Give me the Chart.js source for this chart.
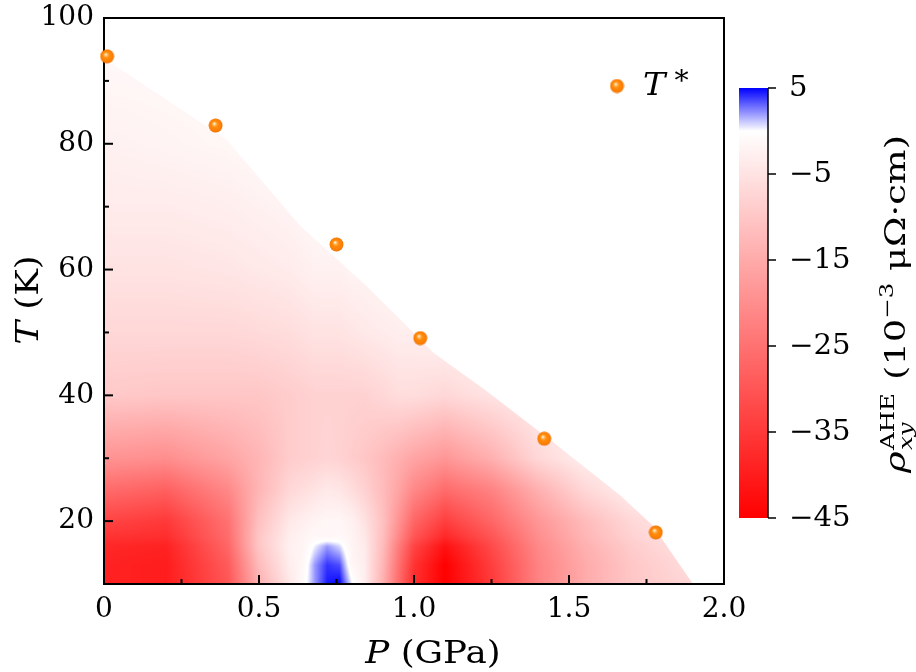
<!DOCTYPE html>
<html>
<head>
<meta charset="utf-8">
<script src="https://cdn.jsdelivr.net/npm/chart.js@4.4.1/dist/chart.umd.min.js"></script>
<style>
  html, body { margin: 0; padding: 0; background: #fff; }
</style>
</head>
<body>
<canvas id="chart" width="916" height="672"></canvas>
<script>
// T* crossover
const starP = [0.01, 0.36, 0.75, 1.02, 1.42, 1.78];
const starT = [93.9, 82.9, 64.0, 49.1, 33.1, 18.2];

// rho_xy^AHE (10^-3 uOhm cm) estimated on a P x T grid from the map colours
const gridP = [0, 0.2, 0.4, 0.5, 0.6, 0.64, 0.68, 0.72, 0.76, 0.8, 0.84, 0.9, 0.95, 1.0, 1.1, 1.25, 1.4, 1.55, 1.7, 1.9];
const gridT = [10, 13, 16, 17.5, 20, 25, 30, 40, 50, 60, 70, 80, 95];
const rho = [
  [-39, -40, -30, -14, -4, -1, 2, 4.5, 5, 0.3, -3, -14, -26, -37, -45, -35, -22, -15, -10, -7],
  [-39, -40, -29, -12, -3, -1.5, 2, 4, 3.5, -1.5, -3, -13, -25, -36, -45, -34, -22, -15, -10, -6],
  [-38, -39, -27, -10, -2.5, -2, 0.3, 2, 0.8, -2, -3.5, -12, -23, -33, -42, -32, -21, -14, -9, -5],
  [-36, -37, -26, -10, -3, -2, -1.2, -1.5, -1.2, -2, -4, -11.5, -21, -30, -38, -30, -20, -13, -8, -4],
  [-33, -35, -25, -11, -4, -3, -2, -1.5, -1.5, -2.5, -5, -11, -19, -27, -34, -27, -18.5, -12, -7, -3],
  [-26, -28, -21, -13, -7, -6, -5, -4, -4.5, -6, -8, -12, -16, -21, -26, -22, -14, -7, -3, -2],
  [-19, -20, -16, -13, -9, -8.5, -8, -7.5, -8, -9, -10, -12, -14, -16, -18.5, -14, -7, -3, -2, -1],
  [-9.5, -10, -10, -10, -9, -8.5, -8, -8, -8, -8, -8, -7, -6, -6, -7, -5, -3, -2, -1, -1],
  [-7, -7, -7, -6.5, -6, -5.5, -5, -5, -5, -4.5, -4, -3.5, -3, -3, -2, -1, -1, -1, -1, -1],
  [-5, -5, -4.5, -4, -3.5, -3, -2.5, -2.5, -2.5, -2, -2, -1.5, -1.5, -1, -1, -1, -1, -1, -1, -1],
  [-3.5, -3.5, -3, -2.5, -2, -1.5, -1, -1, -1, -1, -1, -1, -1, -1, -1, -1, -1, -1, -1, -1],
  [-2.5, -2, -1.5, -1, -1, -1, -1, -1, -1, -1, -1, -1, -1, -1, -1, -1, -1, -1, -1, -1],
  [-1, -1, -1, -1, -1, -1, -1, -1, -1, -1, -1, -1, -1, -1, -1, -1, -1, -1, -1, -1]
];

// upper edge of the measured region (above it the map is blank)
const edgeP = [0, 0.395, 0.632, 0.847, 1.062, 1.234, 1.45, 1.665, 1.77, 1.9];
const edgeT = [93.6, 80.7, 67, 57.4, 46.8, 40.7, 32.5, 24.1, 19.3, 10];

const xTicks = [0, 0.5, 1, 1.5, 2];
const xTickLabels = ['0', '0.5', '1.0', '1.5', '2.0'];
const yTicks = [20, 40, 60, 80, 100];
const yTickLabels = ['20', '40', '60', '80', '100'];
const cbMin = -45, cbMax = 5;
const cbTicks = [5, -5, -15, -25, -35, -45];
const cbTickLabels = ['5', '\u22125', '\u221215', '\u221225', '\u221235', '\u221245'];

const SERIF = '"DejaVu Serif", serif';

// bwr colormap, white at zero
function colour(v) {
  if (v >= 0) {
    const c = Math.round(255 * (1 - Math.min(v / cbMax, 1)));
    return [c, c, 255];
  }
  const c = Math.round(255 * (1 - Math.min(v / cbMin, 1)));
  return [255, c, c];
}

function bracket(arr, v) {
  let i = 0;
  while (i < arr.length - 2 && v > arr[i + 1]) i++;
  let f = (v - arr[i]) / (arr[i + 1] - arr[i]);
  return [i, Math.max(0, Math.min(1, f))];
}

function rhoAt(p, t) {
  const [i, fx] = bracket(gridP, p);
  const [j, fy] = bracket(gridT, t);
  const a = rho[j][i], b = rho[j][i + 1], c = rho[j + 1][i], d = rho[j + 1][i + 1];
  return (a * (1 - fx) + b * fx) * (1 - fy) + (c * (1 - fx) + d * fx) * fy;
}

function ball() {
  const c = document.createElement('canvas');
  c.width = 15; c.height = 15;
  const g = c.getContext('2d');
  const grad = g.createRadialGradient(6, 5.4, 0.2, 7.5, 7.5, 7);
  grad.addColorStop(0, '#fffaf2');
  grad.addColorStop(0.22, '#ffb553');
  grad.addColorStop(0.45, '#ff8a0c');
  grad.addColorStop(0.85, '#ff7f00');
  grad.addColorStop(1, '#e06800');
  g.fillStyle = grad;
  g.beginPath();
  g.arc(7.5, 7.5, 6.9, 0, Math.PI * 2);
  g.fill();
  return c;
}
const ballImg = ball();

// text runs, stretched along the text direction by sx
function drawRuns(ctx, parts, x, y, align, sx) {
  sx = sx || 1;
  let w = 0;
  parts.forEach(p => { ctx.font = p[1]; w += ctx.measureText(p[0]).width; });
  ctx.save();
  ctx.translate(x, y);
  ctx.scale(sx, 1);
  let cx = align === 'center' ? -w / 2 : 0;
  parts.forEach(p => {
    ctx.font = p[1];
    ctx.fillText(p[0], cx, p[2] || 0);
    cx += ctx.measureText(p[0]).width;
  });
  ctx.restore();
}

const heatmap = {
  id: 'heatmap',
  beforeDatasetsDraw(chart) {
    const { ctx, chartArea: a, scales: { x, y } } = chart;
    const w = Math.round(a.right - a.left), h = Math.round(a.bottom - a.top);
    const off = document.createElement('canvas');
    off.width = w; off.height = h;
    const octx = off.getContext('2d');
    const img = octx.createImageData(w, h);
    for (let py = 0; py < h; py++) {
      const t = y.getValueForPixel(a.top + py + 0.5);
      for (let px = 0; px < w; px++) {
        const p = x.getValueForPixel(a.left + px + 0.5);
        const c = colour(rhoAt(p, t));
        const k = (py * w + px) * 4;
        img.data[k] = c[0]; img.data[k + 1] = c[1]; img.data[k + 2] = c[2]; img.data[k + 3] = 255;
      }
    }
    octx.putImageData(img, 0, 0);

    ctx.save();
    ctx.beginPath();
    ctx.moveTo(x.getPixelForValue(0), y.getPixelForValue(10));
    edgeP.forEach((p, i) => ctx.lineTo(x.getPixelForValue(p), y.getPixelForValue(edgeT[i])));
    ctx.closePath();
    ctx.clip();
    ctx.drawImage(off, a.left, a.top);
    ctx.restore();

    // frame and inward ticks
    ctx.save();
    ctx.strokeStyle = '#000';
    ctx.lineWidth = 2;
    x.ticks.forEach(tk => {
      const px = x.getPixelForValue(tk.value);
      const len = tk.label ? 9 : 5;
      ctx.beginPath(); ctx.moveTo(px, a.bottom); ctx.lineTo(px, a.bottom - len); ctx.stroke();
    });
    y.ticks.forEach(tk => {
      const py = y.getPixelForValue(tk.value);
      const len = tk.label ? 9 : 5;
      ctx.beginPath(); ctx.moveTo(a.left, py); ctx.lineTo(a.left + len, py); ctx.stroke();
    });
    ctx.strokeRect(a.left, a.top, a.right - a.left, a.bottom - a.top);
    ctx.restore();
  },
  afterDraw(chart) {
    const { ctx, chartArea: a } = chart;
    ctx.save();
    ctx.fillStyle = '#000';
    ctx.textBaseline = 'alphabetic';

    // axis titles
    drawRuns(ctx, [['P', 'italic 31px ' + SERIF], [' (GPa)', '31px ' + SERIF]], 433, 663, 'center', 1.15);
    ctx.save();
    ctx.translate(38, 300);
    ctx.rotate(-Math.PI / 2);
    drawRuns(ctx, [['T', 'italic 31px ' + SERIF], [' (K)', '31px ' + SERIF]], 0, 0, 'center', 1.15);
    ctx.restore();

    // legend
    ctx.drawImage(ballImg, a.right - 107 - 7.5, a.top + 68 - 7.5);
    drawRuns(ctx, [['T', 'italic 32px ' + SERIF], [' *', '27px ' + SERIF, -5]], a.right - 81, a.top + 77, 'left', 1.05);

    // colour bar
    const cbL = a.right + 15, cbR = a.right + 44;
    const cbT = a.top + 70, cbB = a.top + 500;
    const toPx = v => cbT + (cbMax - v) / (cbMax - cbMin) * (cbB - cbT);
    for (let yy = cbT; yy < cbB; yy++) {
      const v = cbMax - (yy + 0.5 - cbT) / (cbB - cbT) * (cbMax - cbMin);
      const c = colour(v);
      ctx.fillStyle = 'rgb(' + c[0] + ',' + c[1] + ',' + c[2] + ')';
      ctx.fillRect(cbL, yy, cbR - cbL, 1);
    }
    ctx.strokeStyle = '#000';
    ctx.lineWidth = 1.5;
    ctx.beginPath(); ctx.moveTo(cbR, cbT); ctx.lineTo(cbR, cbB); ctx.stroke();
    ctx.fillStyle = '#000';
    ctx.textBaseline = 'middle';
    cbTicks.forEach((v, i) => {
      const py = toPx(v);
      ctx.beginPath(); ctx.moveTo(cbR, py); ctx.lineTo(cbR + 8, py); ctx.stroke();
      drawRuns(ctx, [[cbTickLabels[i], '27px ' + SERIF]], cbR + 21, py + 1, 'left', 1.08);
    });

    // colour bar title, rotated
    ctx.textBaseline = 'alphabetic';
    const big = '27px ' + SERIF, bigI = 'italic 27px ' + SERIF;
    const sm = '18px ' + SERIF, smI = 'italic 18px ' + SERIF;
    ctx.font = bigI; const wRho = ctx.measureText('\u03c1').width;
    ctx.font = sm; const wSup = ctx.measureText('AHE').width;
    ctx.font = smI; const wSub = ctx.measureText('xy').width;
    const wStack = Math.max(wSup, wSub) + 2;
    ctx.font = big; const w1 = ctx.measureText(' (10').width;
    ctx.font = sm; const w2 = ctx.measureText('\u22123').width;
    ctx.font = big; const w3 = ctx.measureText(' \u03bc\u03a9\u00b7cm)').width;
    const total = wRho + wStack + w1 + w2 + w3;
    ctx.translate(a.right + 181, 304);
    ctx.rotate(-Math.PI / 2);
    ctx.scale(338 / total, 1);
    let cx = -total / 2;
    ctx.font = bigI; ctx.fillText('\u03c1', cx, 0); cx += wRho + 1;
    ctx.font = sm; ctx.fillText('AHE', cx, -11);
    ctx.font = smI; ctx.fillText('xy', cx, 7);
    cx += wStack - 1;
    ctx.font = big; ctx.fillText(' (10', cx, 0); cx += w1;
    ctx.font = sm; ctx.fillText('\u22123', cx, -12); cx += w2;
    ctx.font = big; ctx.fillText(' \u03bc\u03a9\u00b7cm)', cx, 0);
    ctx.restore();
  }
};

function pickLabel(list, labels, value) {
  const i = list.findIndex(v => Math.abs(v - value) < 1e-6);
  return i < 0 ? '' : labels[i];
}

new Chart(document.getElementById('chart'), {
  type: 'scatter',
  data: {
    datasets: [{
      label: 'T*',
      data: starP.map((p, i) => ({ x: p, y: starT[i] })),
      pointStyle: ballImg,
      pointRadius: 7,
      clip: false
    }]
  },
  options: {
    responsive: false,
    devicePixelRatio: 1,
    animation: false,
    events: [],
    layout: { padding: { left: 0, top: 18, right: 192, bottom: 0 } },
    plugins: { legend: { display: false }, tooltip: { enabled: false } },
    scales: {
      x: {
        type: 'linear', min: 0, max: 2,
        grid: { display: false, drawTicks: false },
        border: { display: false },
        ticks: {
          stepSize: 0.25, autoSkip: false, maxRotation: 0, padding: 9,
          color: '#000', font: { family: SERIF, size: 28 },
          callback: v => pickLabel(xTicks, xTickLabels, v)
        },
        afterFit: s => { s.height = 88; s.paddingLeft = 0; s.paddingRight = 0; }
      },
      y: {
        type: 'linear', min: 10, max: 100,
        grid: { display: false, drawTicks: false },
        border: { display: false },
        ticks: {
          stepSize: 10, autoSkip: false, padding: 10,
          color: '#000', font: { family: SERIF, size: 28 },
          callback: v => pickLabel(yTicks, yTickLabels, v)
        },
        afterFit: s => { s.width = 104; s.paddingTop = 0; s.paddingBottom = 0; }
      }
    }
  },
  plugins: [heatmap]
});
</script>
</body>
</html>
